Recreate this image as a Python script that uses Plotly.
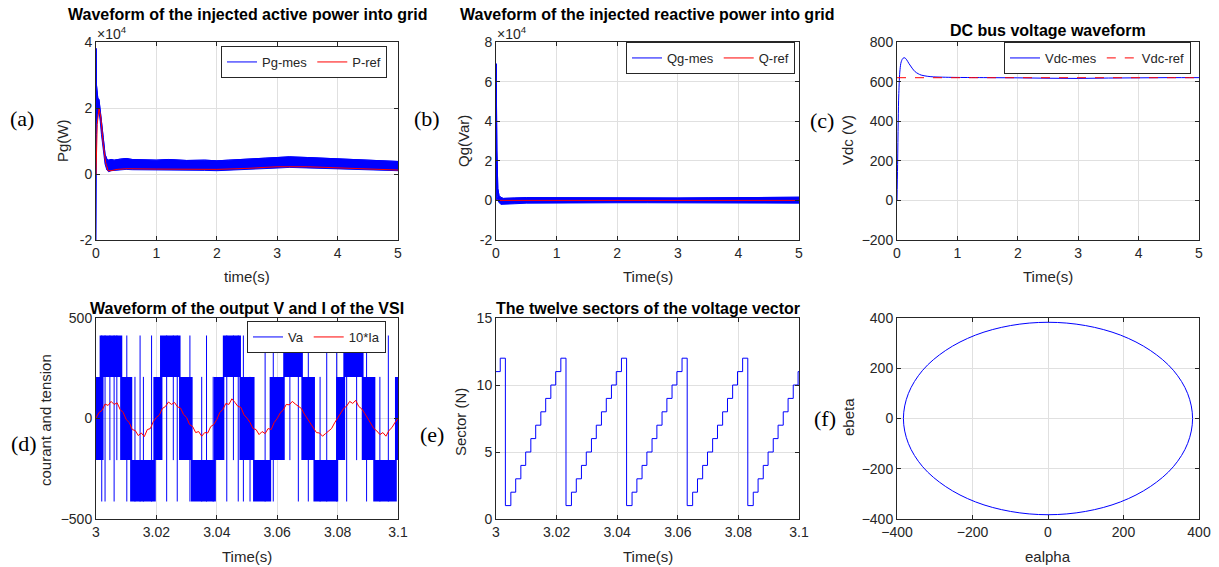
import plotly.graph_objects as go

W, H = 1219, 567

# ---------------- data ----------------
# (a) active power, values in units of 1e4 W
PG_T = [0, 0.004, 0.008, 0.015, 0.03, 0.05, 0.07, 0.09, 0.12, 0.15, 0.18, 0.21, 0.25, 0.3, 0.4, 0.5, 0.6,
        0.8, 1.0, 1.2, 1.5, 1.8, 2.0, 2.2, 2.5, 2.8, 3.0, 3.2, 3.5, 3.8, 4.0, 4.2, 4.5, 4.8, 5.0]
PG_HI = [3.8, 3.8, 2.7, 2.6, 2.3, 2.25, 2.0, 1.6, 1.1, 0.6, 0.45, 0.42, 0.44, 0.42, 0.45, 0.47, 0.44,
         0.43, 0.42, 0.44, 0.41, 0.42, 0.40, 0.42, 0.44, 0.48, 0.50, 0.52, 0.50, 0.48, 0.46, 0.45, 0.42, 0.40, 0.38]
PG_LO = [-2.0, 0.0, 1.2, 1.6, 1.8, 1.9, 1.6, 1.2, 0.7, 0.3, 0.12, 0.07, 0.10, 0.12, 0.13, 0.14, 0.13,
         0.12, 0.12, 0.12, 0.11, 0.11, 0.10, 0.11, 0.13, 0.16, 0.18, 0.20, 0.19, 0.17, 0.16, 0.15, 0.13, 0.11, 0.10]
PREF_T = [0, 0.02, 0.05, 0.08, 0.12, 0.16, 0.2, 0.25, 0.35, 0.5, 1.0, 1.5, 2.0, 2.5, 3.0, 3.5, 4.0, 4.5, 5.0]
PREF = [0, 1.5, 2.0, 1.7, 0.9, 0.35, 0.10, 0.10, 0.14, 0.16, 0.15, 0.14, 0.14, 0.17, 0.22, 0.22, 0.18, 0.14, 0.12]

# (b) reactive power, units of 1e4 Var
QG_T = [0, 0.003, 0.006, 0.01, 0.015, 0.02, 0.03, 0.05, 0.08, 0.12, 0.2, 0.3, 0.5, 1, 1.5, 2, 2.5, 3, 3.5, 4, 4.5, 5]
QG_HI = [0, 6.9, 6.0, 4.1, 2.5, 1.5, 0.6, 0.25, 0.15, 0.10, 0.10, 0.12, 0.14, 0.13, 0.13, 0.12, 0.12, 0.12, 0.13, 0.13, 0.14, 0.16]
QG_LO = [0, 0.0, 1.0, 0.8, 0.4, 0.2, 0.0, -0.10, -0.20, -0.22, -0.20, -0.17, -0.14, -0.13, -0.12, -0.12, -0.12, -0.13, -0.13, -0.12, -0.13, -0.14]
QREF_T = [0, 5]
QREF = [0, 0]

# (c) DC bus voltage
VDC_T = [0, 0.01, 0.02, 0.03, 0.05, 0.07, 0.1, 0.13, 0.16, 0.2, 0.25, 0.3, 0.35, 0.4, 0.5, 0.6, 0.8,
         1, 1.5, 2, 2.5, 3, 3.5, 4, 4.5, 5]
VDC = [0, 180, 400, 540, 660, 700, 718, 720, 710, 690, 668, 650, 640, 633, 627, 624, 622,
       621, 620, 619, 617, 616, 618, 619, 620, 620]
VREF_T = [0, 5]
VREF = [620, 620]

# (d) inverter phase voltage: dense switching blocks and isolated switching lines
V1, V2 = 207, 413
TOP_START = [3.0012, 3.0212, 3.0420, 3.0620, 3.0819]
TOP_END = [3.0087, 3.0280, 3.0480, 3.0685, 3.0886]
BOT_START = [3.0113, 3.0314, 3.0520, 3.0720, 3.0918]
BOT_END = [3.0198, 3.0397, 3.0580, 3.0802, 3.0996]
MID_START = [3.0000, 3.0080, 3.0190, 3.0275, 3.0390, 3.0475, 3.0575, 3.0680, 3.0795, 3.0880, 3.0990]
MID_END = [3.0025, 3.0120, 3.0220, 3.0320, 3.0425, 3.0525, 3.0625, 3.0725, 3.0825, 3.0925, 3.1000]
SPIKE_T = [3.0019, 3.0030, 3.0046, 3.0060, 3.0069, 3.0102, 3.0129, 3.0146, 3.0157, 3.0184, 3.0234, 3.0256,
           3.0269, 3.0311, 3.0350, 3.0366, 3.0388, 3.0433, 3.0455, 3.0471, 3.0488, 3.0510, 3.0560, 3.0587,
           3.0642, 3.0670, 3.0703, 3.0742, 3.0764, 3.0797, 3.0830, 3.0863, 3.0896, 3.0940, 3.0968]
SPIKE_LO = [-413, -413, -207, -413, -207, -413, -413, -413, -413, -413, -413, -207,
            -413, -413, -413, -413, -413, -413, -207, -413, -413, -413, -413, -413,
            -207, -413, -413, -413, -413, -413, -413, -207, -413, -413, -413]
SPIKE_HI = [413, 413, 413, 413, 413, 413, 207, 413, 207, 413, 413, 413,
            413, 413, 207, 413, 207, 413, 413, 413, 413, 207, 413, 413,
            413, 413, 413, 207, 413, 413, 413, 413, 413, 207, 413]
# 10*Ia sampled every 1 ms from 3.000 s
IA_T0, IA_DT = 3.0, 0.001
IA10 = [2, 30, 40, 72, 65, 85, 70, 78, 45, 30,
        -5, -20, -55, -60, -85, -72, -90, -55, -50, -15,
        5, 18, 50, 60, 82, 70, 80, 58, 52, 20,
        5, -30, -40, -70, -65, -88, -70, -72, -40, -30,
        -5, 30, 45, 75, 70, 98, 80, 60, 55, 18,
        2, -20, -50, -55, -80, -65, -75, -50, -55, -20,
        0, 28, 42, 70, 68, 85, 72, 62, 50, 22,
        -2, -28, -45, -70, -72, -88, -75, -60, -50, -22,
        3, 22, 50, 62, 85, 75, 90, 60, 48, 25,
        0, -25, -50, -62, -80, -70, -88, -60, -45, -20,
        0]

# (e) sector number (step changes)
SECTOR_T = [3.0000, 3.0014, 3.0031, 3.0049, 3.0065, 3.0082, 3.0098, 3.0115, 3.0131, 3.0148, 3.0164, 3.0181, 3.0197,
            3.0214, 3.0231, 3.0249, 3.0265, 3.0282, 3.0298, 3.0315, 3.0331, 3.0348, 3.0364, 3.0381, 3.0397,
            3.0414, 3.0431, 3.0449, 3.0465, 3.0482, 3.0498, 3.0515, 3.0531, 3.0548, 3.0564, 3.0581, 3.0597,
            3.0614, 3.0631, 3.0649, 3.0665, 3.0682, 3.0698, 3.0715, 3.0731, 3.0748, 3.0764, 3.0781, 3.0797,
            3.0814, 3.0831, 3.0849, 3.0865, 3.0882, 3.0898, 3.0915, 3.0931, 3.0948, 3.0964, 3.0981, 3.0997, 3.1000]
SECTOR_N = [11, 12, 1, 2, 3, 4, 5, 6, 7, 8, 9, 10, 11,
            12, 1, 2, 3, 4, 5, 6, 7, 8, 9, 10, 11,
            12, 1, 2, 3, 4, 5, 6, 7, 8, 9, 10, 11,
            12, 1, 2, 3, 4, 5, 6, 7, 8, 9, 10, 11,
            12, 1, 2, 3, 4, 5, 6, 7, 8, 9, 10, 11, 11]

# (f) alpha-beta EMF locus
EALPHA = [383, 370, 332, 271, 192, 99, 0, -99, -192, -271, -332, -370, -383,
          -370, -332, -271, -192, -99, 0, 99, 192, 271, 332, 370, 383]
EBETA = [0, 99, 192, 271, 332, 370, 383, 370, 332, 271, 192, 99, 0,
         -99, -192, -271, -332, -370, -383, -370, -332, -271, -192, -99, 0]

# ---------------- figure ----------------
BLUE, RED = "#0000ff", "#ff0000"
AX = "#262626"
FONT = "Liberation Sans, Arial, sans-serif"

fig = go.Figure()


def band(t, hi, lo, scale):
    xs = list(t) + list(reversed(t))
    ys = [v * scale for v in hi] + [v * scale for v in reversed(lo)]
    return xs, ys


# (a)
bx_, by_ = band(PG_T, PG_HI, PG_LO, 1e4)
fig.add_trace(go.Scatter(x=bx_, y=by_, mode="lines", line=dict(color=BLUE, width=1), fill="toself",
                         fillcolor=BLUE, showlegend=False, xaxis="x", yaxis="y", hoverinfo="skip"))
fig.add_trace(go.Scatter(x=PG_T, y=[v * 1e4 for v in PG_HI], mode="lines", line=dict(color=BLUE, width=1),
                         name="Pg-mes", xaxis="x", yaxis="y", legend="legend"))
fig.add_trace(go.Scatter(x=PREF_T, y=[v * 1e4 for v in PREF], mode="lines", line=dict(color=RED, width=1),
                         name="P-ref", xaxis="x", yaxis="y", legend="legend"))
# (b)
bx_, by_ = band(QG_T, QG_HI, QG_LO, 1e4)
fig.add_trace(go.Scatter(x=bx_, y=by_, mode="lines", line=dict(color=BLUE, width=1), fill="toself",
                         fillcolor=BLUE, showlegend=False, xaxis="x2", yaxis="y2", hoverinfo="skip"))
fig.add_trace(go.Scatter(x=QG_T, y=[v * 1e4 for v in QG_HI], mode="lines", line=dict(color=BLUE, width=1),
                         name="Qg-mes", xaxis="x2", yaxis="y2", legend="legend2"))
fig.add_trace(go.Scatter(x=QREF_T, y=QREF, mode="lines", line=dict(color=RED, width=1),
                         name="Q-ref", xaxis="x2", yaxis="y2", legend="legend2"))
# (c)
fig.add_trace(go.Scatter(x=VDC_T, y=VDC, mode="lines", line=dict(color=BLUE, width=1, shape="spline"),
                         name="Vdc-mes", xaxis="x3", yaxis="y3", legend="legend3"))
fig.add_trace(go.Scatter(x=VREF_T, y=VREF, mode="lines",
                         line=dict(color="rgba(255,0,0,0.8)", width=1.3, dash="dash"),
                         name="Vdc-ref", xaxis="x3", yaxis="y3", legend="legend3"))

# (d) blocks
bx, by = [], []
for s, e in zip(TOP_START, TOP_END):
    bx += [s, e, e, s, s, None]; by += [V1, V1, V2, V2, V1, None]
for s, e in zip(BOT_START, BOT_END):
    bx += [s, e, e, s, s, None]; by += [-V2, -V2, -V1, -V1, -V2, None]
for s, e in zip(MID_START, MID_END):
    bx += [s, e, e, s, s, None]; by += [-V1, -V1, V1, V1, -V1, None]
fig.add_trace(go.Scatter(x=bx, y=by, mode="lines", line=dict(width=0, color=BLUE), fill="toself",
                         fillcolor=BLUE, showlegend=False, xaxis="x4", yaxis="y4", hoverinfo="skip"))
sx, sy = [], []
for t, lo, hi in zip(SPIKE_T, SPIKE_LO, SPIKE_HI):
    sx += [t, t, None]; sy += [lo, hi, None]
fig.add_trace(go.Scatter(x=sx, y=sy, mode="lines", line=dict(color=BLUE, width=1), name="Va",
                         xaxis="x4", yaxis="y4", legend="legend4"))
fig.add_trace(go.Scatter(x0=IA_T0, dx=IA_DT, y=IA10, mode="lines", line=dict(color=RED, width=1),
                         name="10*Ia", xaxis="x4", yaxis="y4", legend="legend4"))
# (e)
fig.add_trace(go.Scatter(x=SECTOR_T, y=SECTOR_N, mode="lines", line=dict(color=BLUE, width=1, shape="hv"),
                         showlegend=False, xaxis="x5", yaxis="y5"))
# (f)
fig.add_trace(go.Scatter(x=EALPHA, y=EBETA, mode="lines", line=dict(color=BLUE, width=1, shape="spline"),
                         showlegend=False, xaxis="x6", yaxis="y6"))


def px(x):
    return x / W


def py(y):
    return 1 - y / H


XD = [(96, 398), (496, 799), (897, 1199)]
TOPY = (py(240), py(42))
BOTY = (py(519), py(318))


def axis(**kw):
    d = dict(showline=True, linecolor=AX, linewidth=1, mirror="ticks", ticks="inside", ticklen=4,
             tickcolor=AX, showgrid=True, gridcolor="#e0e0e0", gridwidth=1, zeroline=False,
             tickfont=dict(family=FONT, size=14, color=AX), fixedrange=True, automargin=False)
    d.update(kw)
    return d


t5 = dict(range=[0, 5], tickvals=[0, 1, 2, 3, 4, 5])
tz = dict(range=[3, 3.1], tickvals=[3, 3.02, 3.04, 3.06, 3.08, 3.1],
          ticktext=["3", "3.02", "3.04", "3.06", "3.08", "3.1"])

layout = dict(
    width=W, height=H, margin=dict(l=0, r=0, t=0, b=0, pad=0, autoexpand=False),
    paper_bgcolor="white", plot_bgcolor="white",
    xaxis=axis(domain=[px(XD[0][0]), px(XD[0][1])], anchor="y", **t5),
    yaxis=axis(domain=list(TOPY), anchor="x", range=[-2e4, 4e4], tickvals=[-2e4, 0, 2e4, 4e4],
               ticktext=["-2", "0", "2", "4"]),
    xaxis2=axis(domain=[px(XD[1][0]), px(XD[1][1])], anchor="y2", **t5),
    yaxis2=axis(domain=list(TOPY), anchor="x2", range=[-2e4, 8e4], tickvals=[-2e4, 0, 2e4, 4e4, 6e4, 8e4],
                ticktext=["-2", "0", "2", "4", "6", "8"]),
    xaxis3=axis(domain=[px(XD[2][0]), px(XD[2][1])], anchor="y3", **t5),
    yaxis3=axis(domain=list(TOPY), anchor="x3", range=[-200, 800], tickvals=[-200, 0, 200, 400, 600, 800]),
    xaxis4=axis(domain=[px(XD[0][0]), px(XD[0][1])], anchor="y4", **tz),
    yaxis4=axis(domain=list(BOTY), anchor="x4", range=[-500, 500], tickvals=[-500, 0, 500]),
    xaxis5=axis(domain=[px(XD[1][0]), px(XD[1][1])], anchor="y5", **tz),
    yaxis5=axis(domain=list(BOTY), anchor="x5", range=[0, 15], tickvals=[0, 5, 10, 15]),
    xaxis6=axis(domain=[px(XD[2][0]), px(XD[2][1])], anchor="y6", range=[-400, 400],
                tickvals=[-400, -200, 0, 200, 400]),
    yaxis6=axis(domain=list(BOTY), anchor="x6", range=[-400, 400], tickvals=[-400, -200, 0, 200, 400]),
    showlegend=True,
)

leg = dict(orientation="h", xanchor="right", yanchor="top", bgcolor="white", bordercolor=AX, borderwidth=1,
           font=dict(family=FONT, size=13, color=AX), tracegroupgap=0, itemwidth=30, traceorder="normal")
layout["legend"] = dict(leg, x=px(387), y=py(46))
layout["legend2"] = dict(leg, x=px(795), y=py(42))
layout["legend3"] = dict(leg, x=px(1191), y=py(42))
layout["legend4"] = dict(leg, x=px(386), y=py(321))

ann = []


def text(x, y, s, size=15, color=AX, bold=False, angle=0, family=FONT, xanchor="center"):
    ann.append(dict(x=px(x), y=py(y), xref="paper", yref="paper", text=("<b>%s</b>" % s) if bold else s,
                    showarrow=False, font=dict(family=family, size=size, color=color), textangle=angle,
                    xanchor=xanchor, yanchor="middle"))


# titles
text(247, 14, "Waveform of the injected active power into grid", 16, "#000", True)
text(647.5, 14, "Waveform of the injected reactive power into grid", 16, "#000", True)
text(1048, 30, "DC bus voltage waveform", 16, "#000", True)
text(247, 308, "Waveform of the output V and I of the VSI", 16, "#000", True)
text(647.5, 308, "The twelve sectors of the voltage vector", 16, "#000", True)
# axis titles
text(247, 277, "time(s)")
text(647.5, 277, "Time(s)")
text(1048, 277, "Time(s)")
text(247, 556, "Time(s)")
text(647.5, 556, "Time(s)")
text(1048, 556, "ealpha")
text(63, 141, "Pg(W)", angle=-90)
text(464, 141, "Qg(Var)", angle=-90)
text(847, 140, "Vdc (V)", angle=-90)
text(45, 420, "courant and tension", angle=-90)
text(460, 422, "Sector (N)", angle=-90)
text(848, 417, "ebeta", angle=-90)
# exponents
text(95, 33, "×10<sup>4</sup>", 14, AX, xanchor="left")
text(495, 33, "×10<sup>4</sup>", 14, AX, xanchor="left")
# panel labels
SERIF = "Liberation Serif, Times New Roman, serif"
for lx, ly, s in [(22, 118, "(a)"), (427, 118, "(b)"), (822, 120, "(c)"),
                  (24, 443, "(d)"), (432, 434, "(e)"), (825, 418, "(f)")]:
    text(lx, ly, s, 22, "#000", family=SERIF)

layout["annotations"] = ann
fig.update_layout(**layout)
fig.write_html("out.html", config={"displayModeBar": False},
               post_script="document.body.style.margin='0px';document.body.style.overflow='hidden';")
